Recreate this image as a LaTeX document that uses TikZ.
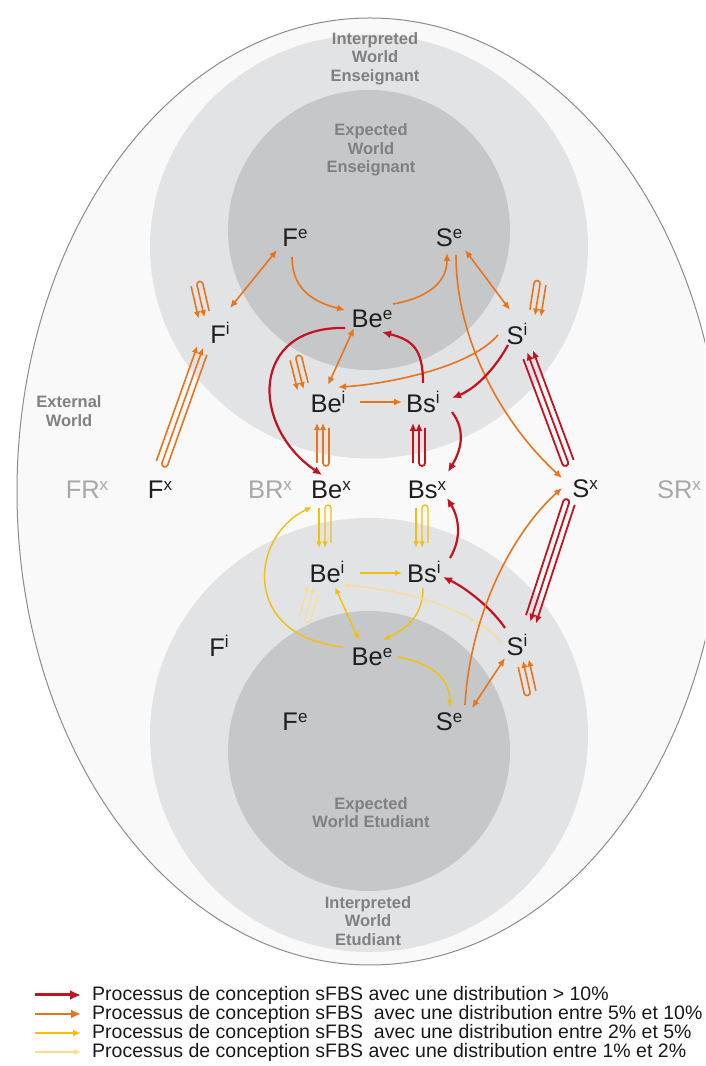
\documentclass[tikz,border=0pt]{standalone}
\usepackage{fontspec}
\setmainfont{Liberation Sans}
\usetikzlibrary{arrows.meta,calc}
\definecolor{rd}{RGB}{195,18,32}
\definecolor{orng}{RGB}{232,117,28}
\definecolor{yl}{RGB}{242,192,12}
\definecolor{pl}{RGB}{250,222,140}
\definecolor{bgouter}{RGB}{249,249,249}
\definecolor{edgeouter}{RGB}{140,140,140}
\definecolor{lightw}{RGB}{226,227,229}
\definecolor{darkw}{RGB}{198,199,201}
\definecolor{wlab}{RGB}{128,128,128}
\definecolor{rlab}{RGB}{168,168,168}
\newcommand{\fbsl}[2]{#1\raisebox{8.5pt}{\fontsize{17}{17}\selectfont #2}}
% loop arrow: #1 node, #2 offset, #3 angle, #4 length, #5 style, #6 yscale
\newcommand{\looparr}[6]{%
  \begin{scope}[shift={([shift={#2}]#1.center)},rotate=#3,yscale=#6]
    \draw[#5] (0,6) -- (#4,6);
    \draw[#5] (#4-5,-6) -- (0,-6) arc[start angle=270,end angle=90,radius=3] -- (#4,0);
  \end{scope}}
\begin{document}
\begin{tikzpicture}[x=1pt,y=1pt,
  fbs/.style={font=\fontsize{25.5}{25.5}\selectfont, inner sep=0pt, text=black!88},
  rlabel/.style={fbs, text=rlab},
  world/.style={font=\fontsize{16.5}{18.5}\selectfont\bfseries, text=wlab, align=center, inner sep=0pt},
  ra/.style={draw=rd, line width=2.2, -{Latex[length=9,width=8]}},
  oa/.style={draw=orng, line width=1.6, -{Latex[length=8,width=7]}},
  oab/.style={oa, {Latex[length=8,width=7]}-{Latex[length=8,width=7]}},
  ya/.style={draw=yl, line width=1.4, -{Latex[length=7,width=6]}},
  yab/.style={ya, {Latex[length=7,width=6]}-{Latex[length=7,width=6]}},
  pa/.style={draw=pl, line width=1.2, -{Latex[length=6,width=5]}},
  lr/.style={draw=rd, line width=1.8, -{Latex[length=8,width=7]}},
  lo/.style={draw=orng, line width=1.6, -{Latex[length=7,width=6.5]}},
  ly/.style={draw=yl, line width=1.3, -{Latex[length=6.5,width=5.5]}},
  lp/.style={draw=pl, line width=1.1, -{Latex[length=5.5,width=5]}},
  legtxt/.style={anchor=west, inner sep=0pt, font=\fontsize{19.5}{19.5}\selectfont, text=black!90},
  lgr/.style={draw=rd, line width=3, -{Latex[length=11,width=10]}},
  lgo/.style={draw=orng, line width=2.5, -{Latex[length=10,width=9]}},
  lgy/.style={draw=yl, line width=1.6, -{Latex[length=8,width=7]}},
  lgp/.style={draw=pl, line width=1.1, -{Latex[length=7,width=6]}}]
\useasboundingbox (0,0) rectangle (705,1066);
\fill[white] (0,0) rectangle (705,1066);
\begin{scope}
  \clip (0,0) rectangle (705,1066);
  \filldraw[fill=bgouter, draw=edgeouter, line width=1] (370,574.5) ellipse [x radius=353, y radius=473.5];
\end{scope}
\fill[lightw] (369,819.5) ellipse [x radius=219, y radius=212];
\fill[darkw] (369,836) ellipse [x radius=141, y radius=140];
\fill[lightw] (369,331) ellipse [x radius=219, y radius=217];
\fill[darkw] (369,315) ellipse [x radius=141, y radius=140];

% world labels
\node[world] (iwe) at (375,1007.5) {Interpreted\\World\\Enseignant};
\node[world] (ewe) at (371,916) {Expected\\World\\Enseignant};
\node[world] (ext) at (69,655) {External\\World};
\node[world] (ewet) at (371,253.5) {Expected\\World Etudiant};
\node[world] (iwet) at (368,145) {Interpreted\\World\\Etudiant};

% FBS nodes
\node[fbs] (Fe) at (295,828) {\fbsl{F}{e}};
\node[fbs] (Se) at (449,828) {\fbsl{S}{e}};
\node[fbs] (Bee) at (372,747) {\fbsl{Be}{e}};
\node[fbs] (Fi) at (220,733) {\fbsl{F}{i}};
\node[fbs] (Si) at (517,732) {\fbsl{S}{i}};
\node[fbs] (Bei) at (328,664) {\fbsl{Be}{i}};
\node[fbs] (Bsi) at (423,664) {\fbsl{Bs}{i}};
\node[rlabel] (FRx) at (87,576) {\fbsl{FR}{x}};
\node[fbs] (Fx) at (160,576) {\fbsl{F}{x}};
\node[rlabel] (BRx) at (270,576) {\fbsl{BR}{x}};
\node[fbs] (Bex) at (331,576) {\fbsl{Be}{x}};
\node[fbs] (Bsx) at (427,576) {\fbsl{Bs}{x}};
\node[fbs] (Sx) at (585,577) {\fbsl{S}{x}};
\node[rlabel] (SRx) at (679,576) {\fbsl{SR}{x}};
\node[fbs] (Bei2) at (327,494) {\fbsl{Be}{i}};
\node[fbs] (Bsi2) at (424,494) {\fbsl{Bs}{i}};
\node[fbs] (Fi2) at (219,420) {\fbsl{F}{i}};
\node[fbs] (Bee2) at (372,409) {\fbsl{Be}{e}};
\node[fbs] (Si2) at (517,421) {\fbsl{S}{i}};
\node[fbs] (Fe2) at (295,344) {\fbsl{F}{e}};
\node[fbs] (Se2) at (449,344) {\fbsl{S}{e}};

% upper orange
\draw[oab] ([shift={(10,25)}]Fi.center) -- ([shift={(-18,-12)}]Fe.center);
\draw[oa] ([shift={(-3,-19)}]Fe.center) .. controls +(0,-32) and +(-32,8) .. ([shift={(-27,9)}]Bee.center);
\draw[oa] ([shift={(21,15)}]Bee.center) .. controls +(30,5) and +(0,-32) .. ([shift={(-2,-15)}]Se.center);
\draw[oab] ([shift={(16,-12)}]Se.center) -- ([shift={(-7,24)}]Si.center);
\draw[oab] ([shift={(-18,-9)}]Bee.center) -- ([shift={(0,17)}]Bei.center);
\draw[oa] ([shift={(-19,-1)}]Si.center) .. controls +(-30,-35) and +(40,2) .. ([shift={(10,15)}]Bei.center);
\draw[oa] ([shift={(32,0)}]Bei.center) -- ([shift={(-21,0)}]Bsi.center);
\draw[oa] ([shift={(7,-17)}]Se.center) .. controls +(0,-90) and +(-55,50) .. ([shift={(-23,11)}]Sx.center);

% upper red
\draw[ra] ([shift={(-27,-9)}]Bee.center) .. controls +(-95,2) and +(-72,49) .. ([shift={(-9,15)}]Bex.center);
\draw[ra] ([shift={(0,19)}]Bsi.center) .. controls +(0,35) and +(30,-8) .. ([shift={(10,-13)}]Bee.center);
\draw[ra] ([shift={(-9,-11)}]Si.center) .. controls +(-12,-22) and +(25,10) .. ([shift={(29,4)}]Bsi.center);
\draw[ra] ([shift={(29,-10)}]Bsi.center) .. controls +(15,-20) and +(12,20) .. ([shift={(21,18)}]Bsx.center);

% upper loop arrows
\looparr{Fx}{(2,27)}{70.4}{122}{lo}{1}
\looparr{Fi}{(-23,48)}{-77}{33}{lo}{-1}
\looparr{Si}{(23,50)}{-99}{32}{lo}{1}
\looparr{Bei}{(-32,43)}{-76}{31}{lo}{-1}
\looparr{Bex}{(-8,27)}{90}{40}{lo}{1}
\looparr{Bsx}{(-8,27)}{90}{40}{lr}{1}
\looparr{Sx}{(-17,27)}{110.4}{117}{lr}{-1}

% lower loop arrows
\looparr{Bex}{(-6,-18)}{-90}{40}{ly}{-1}
\looparr{Bsx}{(-5,-18)}{-90}{40}{ly}{-1}
\looparr{Bei2}{(-22,-47)}{74.3}{33}{lp}{1}
\looparr{Si2}{(13,-47)}{102.7}{32}{lo}{-1}
\looparr{Sx}{(-16,-14)}{-108.1}{125}{lr}{1}

% lower connectors
\draw[ya] ([shift={(-29,10)}]Bee2.center) .. controls +(-103,11) and +(-62,-29) .. ([shift={(-19,-17)}]Bex.center);
\draw[ya] ([shift={(33,-1)}]Bei2.center) -- ([shift={(-22,-1)}]Bsi2.center);
\draw[yab] ([shift={(8,-15)}]Bei2.center) -- ([shift={(-13,17)}]Bee2.center);
\draw[ya] ([shift={(-1,-16)}]Bsi2.center) .. controls +(0,-25) and +(27,13) .. ([shift={(11,17)}]Bee2.center);
\draw[ya] ([shift={(26,0)}]Bee2.center) .. controls +(30,-5) and +(0,30) .. ([shift={(1,15)}]Se2.center);
\draw[pa] ([shift={(-15,2)}]Si2.center) .. controls +(-30,35) and +(60,-5) .. ([shift={(16,-13)}]Bei2.center);
\draw[ra] ([shift={(-12,17)}]Si2.center) .. controls +(-12,18) and +(25,-12) .. ([shift={(19,-5)}]Bsi2.center);
\draw[ra] ([shift={(26,14)}]Bsi2.center) .. controls +(12,20) and +(12,-20) .. ([shift={(20,-8)}]Bsx.center);
\draw[oa] ([shift={(16,17)}]Se2.center) .. controls +(5,90) and +(-50,-45) .. ([shift={(-23,1)}]Sx.center);
\draw[oab] ([shift={(23,14)}]Se2.center) -- ([shift={(-12,-13)}]Si2.center);

% legend
\coordinate (l1) at (35,71);
\coordinate (l2) at (35,52);
\coordinate (l3) at (35,33);
\coordinate (l4) at (35,14);
\node[legtxt] (t1) at (92,71) {Processus de conception sFBS avec une distribution > 10\%};
\node[legtxt] (t2) at (92,52) {Processus de conception sFBS~ avec une distribution entre 5\% et 10\%};
\node[legtxt] (t3) at (92,33) {Processus de conception sFBS~ avec une distribution entre 2\% et 5\%};
\node[legtxt] (t4) at (92,14) {Processus de conception sFBS avec une distribution entre 1\% et 2\%};
\draw[lgr] (l1) -- ([xshift=-11pt]t1.west);
\draw[lgo] (l2) -- ([xshift=-11pt]t2.west);
\draw[lgy] (l3) -- ([xshift=-11pt]t3.west);
\draw[lgp] (l4) -- ([xshift=-11pt]t4.west);
\end{tikzpicture}
\end{document}
